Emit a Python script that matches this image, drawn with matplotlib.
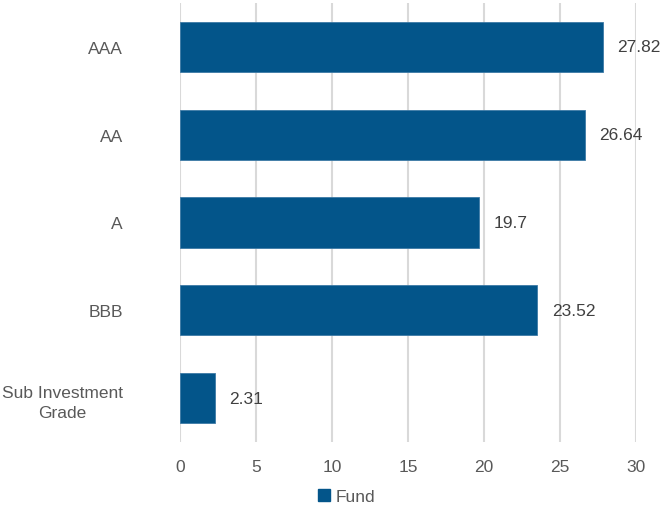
import matplotlib
matplotlib.use("Agg")
import matplotlib.pyplot as plt
from matplotlib.patches import Patch

plt.rcParams['font.family'] = ['Liberation Sans Narrow', 'Liberation Sans', 'DejaVu Sans']

categories = ["AAA", "AA", "A", "BBB", "Sub Investment\nGrade"]
values = [27.82, 26.64, 19.7, 23.52, 2.31]
value_labels = ["27.82", "26.64", "19.7", "23.52", "2.31"]
xticks = [0, 5, 10, 15, 20, 25, 30]

bar_color = "#03558a"
text_color = "#595959"

fig = plt.figure(figsize=(6.6, 5.1), dpi=100)
ax = fig.add_axes([0.2727, 0.1314, 0.6909, 0.8608])

y = list(range(len(categories)))
ax.barh(y, values, height=0.57, color=bar_color, edgecolor="#3d7aa6", linewidth=0.6, zorder=3)
for yi, v, lab in zip(y, values, value_labels):
    ax.text(v + 0.95, yi, lab, va="center", ha="left", fontsize=12.5, color="#404040")

ax.set_ylim(len(categories) - 0.5, -0.5)
ax.set_xlim(0, 30)
ax.set_yticks(y)
ax.set_yticklabels(categories, fontsize=12.5, color=text_color, ha="right",
                   multialignment="center", linespacing=1.45)
ax.set_xticks(xticks)
ax.set_xticklabels([str(t) for t in xticks], fontsize=12.5, color=text_color)
ax.tick_params(axis="y", length=0, pad=41)
ax.tick_params(axis="x", length=0, pad=12)
ax.grid(axis="x", color="#d9d9d9", linewidth=1.5, zorder=0)
for s in ax.spines.values():
    s.set_visible(False)

fig.legend(handles=[Patch(color=bar_color)], labels=["Fund"], loc="center",
           bbox_to_anchor=(0.525, 0.024), frameon=False, fontsize=12.5,
           handlelength=0.7, handleheight=0.7, handletextpad=0.3,
           labelcolor=text_color)

fig.savefig("out.png", dpi=100)
